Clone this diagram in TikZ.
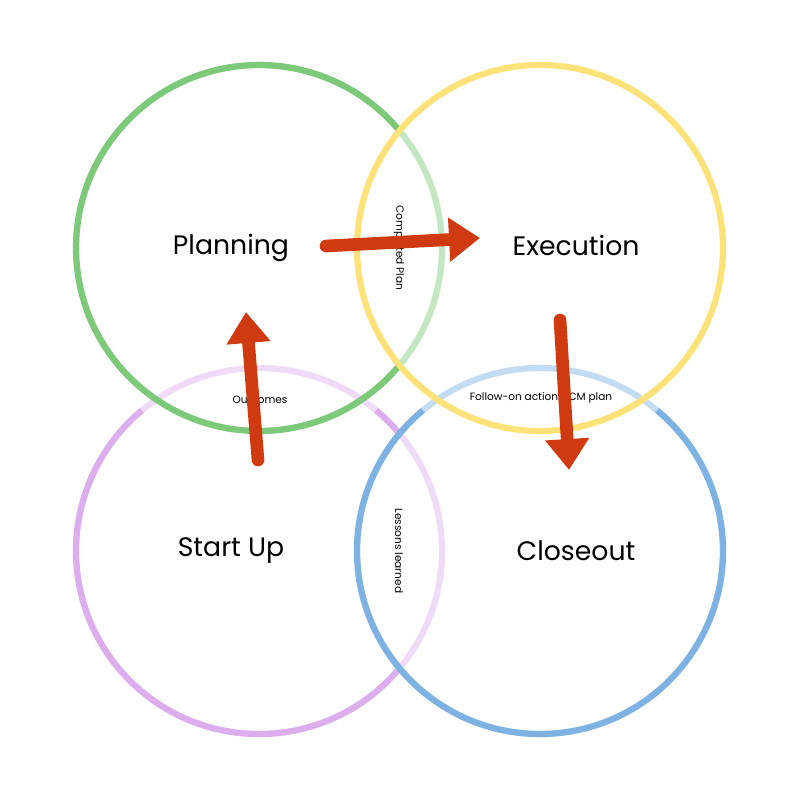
\documentclass[tikz,border=0pt]{standalone}
\usepackage{fontspec}
\setmainfont{Poppins}
\usetikzlibrary{arrows.meta,positioning}
\definecolor{cgreen}{HTML}{7CC97A}
\definecolor{cyellow}{HTML}{FDE27A}
\definecolor{cpurple}{HTML}{DDAEEE}
\definecolor{cblue}{HTML}{7EB2E3}
\definecolor{cred}{HTML}{D03A10}
\tikzset{ring/.style={line width=4.4pt},
  faint/.style={ring,opacity=0.45},
  phase/.style={font=\fontsize{19}{22}\selectfont},
  small/.style={font=\fontsize{7.5}{9}\selectfont},
  flow/.style={draw=cred,line width=9pt,line cap=round,-{Triangle[length=22pt,width=30pt]}}}
\begin{document}
\begin{tikzpicture}[x=0.025cm,y=-0.025cm]
\useasboundingbox[fill=white] (0,0) rectangle (800,800);
\coordinate (cP) at (259,248);
\coordinate (cE) at (540,248);
\coordinate (cS) at (259,551);
\coordinate (cC) at (540,551);
% rings
\draw[faint,cpurple] (cS) circle (183);
\draw[ring,cpurple] (cS) ++(39.8:183) arc[start angle=39.8,end angle=230.2,radius=183];
\draw[ring,cpurple] (cS) ++(309.8:183) arc[start angle=309.8,end angle=320.2,radius=183];
\draw[faint,cblue] (cC) circle (183);
\draw[ring,cblue] (cC) ++(309.8:183) arc[start angle=309.8,end angle=590.2,radius=183];
\draw[faint,cgreen] (cP) circle (183);
\draw[ring,cgreen] (cP) ++(39.8:183) arc[start angle=39.8,end angle=320.2,radius=183];
\draw[ring,cyellow] (cE) circle (183);
% phases
\node[phase] (plan) at (231,248) {Planning};
\node[phase] (exec) at (576,245) {Execution};
\node[phase] (start) at (231,551) {Start Up};
\node[phase] (close) at (576,551) {Closeout};
% hand-offs
\node[small,rotate=-90] (done) at (399,248) {Completed Plan};
\node[small] (follow) at (541,398) {Follow-on actions, CM plan};
\node[small] (out) at (260,400) {Outcomes};
\node[small,rotate=-90] (lessons) at (399,551) {Lessons learned};
\coordinate (a1) at (326,246);
\coordinate (b1) at (480,238);
\coordinate (a2) at (560,320);
\coordinate (b2) at (569,470);
\coordinate (a3) at (258,460);
\coordinate (b3) at (246,312);
\draw[flow] (a1) -- (b1);
\draw[flow] (a2) -- (b2);
\draw[flow] (a3) -- (b3);
\end{tikzpicture}
\end{document}
